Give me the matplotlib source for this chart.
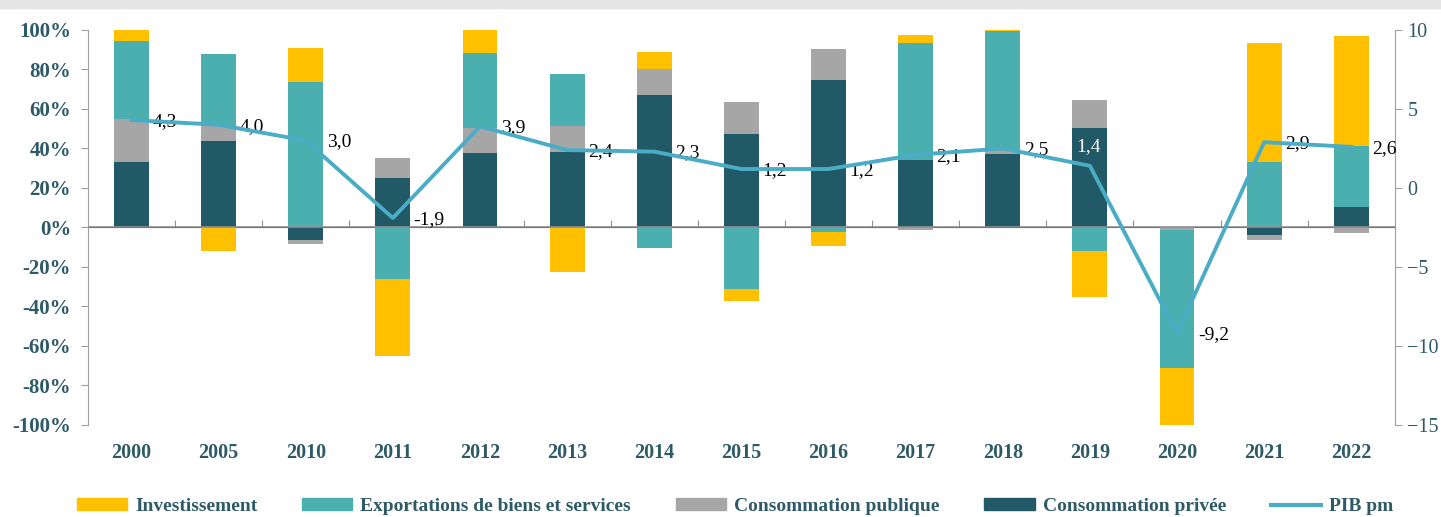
import matplotlib.pyplot as plt
import numpy as np
from matplotlib.patches import Patch, Rectangle
from matplotlib.lines import Line2D

plt.rcParams['font.family'] = ['Liberation Serif', 'DejaVu Serif']

# Données (contributions en % de la croissance, PIB en %)
annees = ['2000', '2005', '2010', '2011', '2012', '2013', '2014', '2015',
          '2016', '2017', '2018', '2019', '2020', '2021', '2022']
conso_privee = [33, 44, -6.5, 25, 37.5, 38, 67, 47.5, 74.5, 34, 37, 50.5, 0, -4, 10.5]
conso_publique = [22, 7.5, -2, 10, 13, 13.5, 13, 16, 16, -1.5, 2, 14, -1.5, -2.5, -3]
exportations = [39.5, 36.5, 73.5, -26, 38, 26, -10.5, -31, -2.3, 59.5, 60.5, -12, -69.5, 33, 31]
investissement = [5.5, -12, 17.5, -39, 11.5, -22.5, 9, -6, -7.2, 4, 0.5, -23, -29, 60.5, 55.5]
pib = [4.3, 4.0, 3.0, -1.9, 3.9, 2.4, 2.3, 1.2, 1.2, 2.1, 2.5, 1.4, -9.2, 2.9, 2.6]

c_inv = '#FFC000'
c_exp = '#4AAFAE'
c_pub = '#A6A6A6'
c_priv = '#225967'
c_pib = '#4BACC6'
c_txt = '#2E5A68'

fig = plt.figure(figsize=(14.41, 5.17), dpi=100)
fig.patches.append(Rectangle((0, 0.985), 1, 0.015, transform=fig.transFigure,
                             color='#E4E4E4', zorder=0))
ax = fig.add_axes([0.061, 0.178, 0.907, 0.764])

x = np.arange(len(annees))
w = 0.40
pos_base = np.zeros(len(x))
neg_base = np.zeros(len(x))
for serie, col in [(conso_privee, c_priv), (conso_publique, c_pub),
                   (exportations, c_exp), (investissement, c_inv)]:
    v = np.array(serie, dtype=float)
    pos = np.where(v > 0, v, 0)
    neg = np.where(v < 0, v, 0)
    ax.bar(x, pos, w, bottom=pos_base, color=col, zorder=2)
    ax.bar(x, neg, w, bottom=neg_base, color=col, zorder=2)
    pos_base += pos
    neg_base += neg

ax.set_xlim(-0.5, len(x) - 0.5)
ax.set_ylim(-100, 100)
ax.set_yticks(np.arange(-100, 101, 20))
ax.set_yticklabels([f'{v}%' for v in range(-100, 101, 20)])
ax.set_xticks(x)
ax.set_xticklabels(annees)
ax.tick_params(axis='x', length=0, pad=13, labelsize=14.5, labelcolor=c_txt)
ax.tick_params(axis='y', length=5, pad=7, color='#A0A0A0', labelsize=15, labelcolor=c_txt)
for lab in ax.get_xticklabels() + ax.get_yticklabels():
    lab.set_fontweight('bold')
for s in ['top', 'right', 'bottom']:
    ax.spines[s].set_visible(False)
ax.spines['left'].set_color('#A0A0A0')

# axe horizontal au niveau de zéro
ax.axhline(0, color='#909090', lw=1.2, zorder=3)
secax = ax.secondary_xaxis(0.5)
secax.set_xticks(np.arange(0.5, len(x) - 1, 1), labels=[])
secax.tick_params(axis='x', length=5, color='#909090')
secax.spines['bottom'].set_visible(False)

ax2 = ax.twinx()
ax2.set_ylim(-15, 10)
ax2.set_yticks(np.arange(-15, 11, 5))
ax2.tick_params(axis='y', length=5, pad=4, color='#A0A0A0', labelsize=14.5, labelcolor=c_txt)
for s in ['top', 'left', 'bottom']:
    ax2.spines[s].set_visible(False)
ax2.spines['right'].set_color('#A0A0A0')
ax2.plot(x, pib, color=c_pib, lw=2.8, zorder=5)

for i, v in enumerate(pib):
    txt = f'{v:.1f}'.replace('.', ',')
    if annees[i] == '2019':
        ax2.annotate(txt, (x[i], v), xytext=(-1, 8), textcoords='offset points',
                     ha='center', va='bottom', fontsize=14, color='white')
    else:
        ax2.annotate(txt, (x[i], v), xytext=(15, -1), textcoords='offset points',
                     ha='left', va='center', fontsize=14, color='black')

handles = [Patch(color=c_inv), Patch(color=c_exp), Patch(color=c_pub),
           Patch(color=c_priv), Line2D([], [], color=c_pib, lw=3)]
labels = ['Investissement', 'Exportations de biens et services',
          'Consommation publique', 'Consommation privée', 'PIB pm']
leg = fig.legend(handles, labels, loc='center', bbox_to_anchor=(0.51, 0.02),
                 ncol=5, frameon=False, prop={'size': 14, 'weight': 'bold'},
                 columnspacing=2.3, handlelength=2.6, handleheight=0.6,
                 handletextpad=0.4)
for t in leg.get_texts():
    t.set_color(c_txt)

fig.savefig('out.png', dpi=100)
